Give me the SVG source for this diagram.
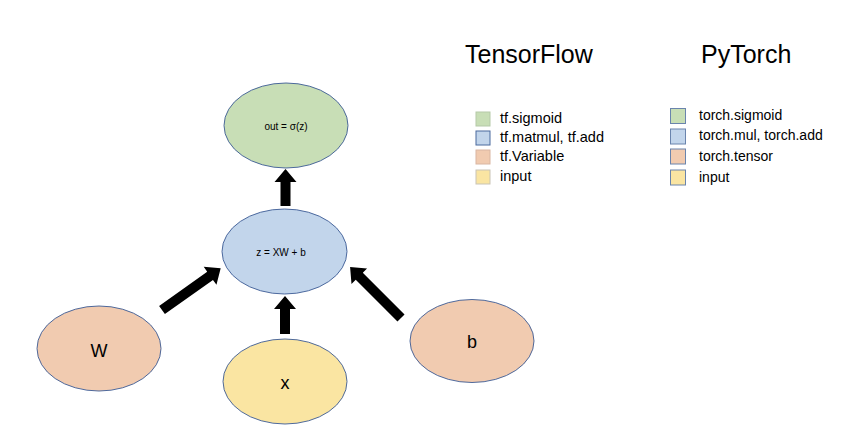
<svg xmlns="http://www.w3.org/2000/svg" xmlns:xlink="http://www.w3.org/1999/xlink" width="845" height="437" viewBox="0 0 845 437">
<style>
.node{stroke:#3b5a94;stroke-width:0.9}
.g{fill:#c8deb6}
.b{fill:#c2d5eb}
.o{fill:#f1cbb0}
.y{fill:#fae5a2}
.t{font-family:"Liberation Sans",Arial,sans-serif;fill:#000}
.small{font-size:10px}
.big{font-size:18px}
.title{font-size:25px}
.leg{font-size:14px}
.sq{stroke:#6a84ad;stroke-width:1}
.arrow{fill:#000}
</style>
<defs>
<polygon id="arr" points="0,-5 59,-5 59,-11 72,0 59,11 59,5 0,5"/>
</defs>
<rect width="845" height="437" fill="#fff"/>
<g id="connectors" class="arrow">
<polygon points="280.5,206 280.5,182 274.5,182 285.5,169 296.5,182 290.5,182 290.5,206"/>
<polygon points="280,334 280,309 274,309 285,296 296,309 290,309 290,334"/>
<use xlink:href="#arr" transform="translate(162,310) rotate(-35.4)"/>
<use xlink:href="#arr" transform="translate(401,318) rotate(-135)"/>
</g>
<g id="out">
<ellipse class="node g" cx="286" cy="125.5" rx="62" ry="42.5"/>
<text class="t small" x="286" y="129.5" text-anchor="middle">out = σ(z)</text>
</g>
<g id="z">
<ellipse class="node b" cx="284.5" cy="251.5" rx="62.5" ry="42.5"/>
<text class="t small" x="281" y="255.5" text-anchor="middle">z = XW + b</text>
</g>
<g id="W">
<ellipse class="node o" cx="99" cy="348.5" rx="62" ry="42.5"/>
<text class="t big" x="99" y="357" text-anchor="middle">W</text>
</g>
<g id="x">
<ellipse class="node y" cx="285" cy="381.5" rx="62" ry="42.5"/>
<text class="t big" x="285" y="389" text-anchor="middle">x</text>
</g>
<g id="b">
<ellipse class="node o" cx="472" cy="341" rx="62" ry="41.5"/>
<text class="t big" x="472" y="348" text-anchor="middle">b</text>
</g>
<g id="legend-tf">
<text class="t title" x="465" y="63">TensorFlow</text>
<rect class="sq g" x="476" y="112" width="14" height="14" style="stroke:#b5c9a8"/>
<rect class="sq b" x="476" y="131" width="14" height="14" style="stroke:#4b6a9e"/>
<rect class="sq o" x="476" y="150" width="14" height="14" style="stroke:#d9b6a2"/>
<rect class="sq y" x="476" y="170" width="14" height="14" style="stroke:#c9c4b5"/>
<text class="t leg" x="500" y="123" style="font-size:14.5px">tf.sigmoid</text>
<text class="t leg" x="500" y="142" style="font-size:14.5px">tf.matmul, tf.add</text>
<text class="t leg" x="500" y="161" style="font-size:14.5px">tf.Variable</text>
<text class="t leg" x="500" y="181" style="font-size:14.5px">input</text>
</g>
<g id="legend-pt">
<text class="t title" x="701" y="63">PyTorch</text>
<rect class="sq g" x="670.5" y="108.5" width="15" height="15"/>
<rect class="sq b" x="670.5" y="129" width="15" height="15"/>
<rect class="sq o" x="670.5" y="149" width="15" height="15"/>
<rect class="sq y" x="670.5" y="170" width="15" height="15"/>
<text class="t leg" x="699" y="120">torch.sigmoid</text>
<text class="t leg" x="699" y="140">torch.mul, torch.add</text>
<text class="t leg" x="699" y="161">torch.tensor</text>
<text class="t leg" x="699" y="182">input</text>
</g>
</svg>
